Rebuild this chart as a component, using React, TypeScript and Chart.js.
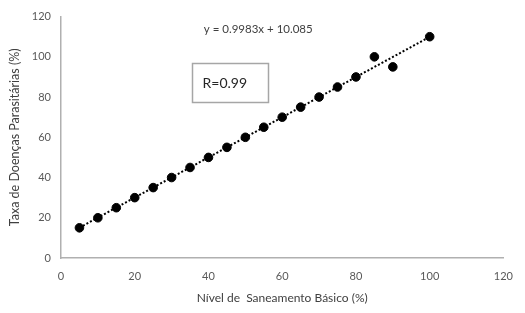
import React, { useEffect, useRef } from "react";
import { Chart, registerables } from "chart.js";

Chart.register(...registerables);

const saneamento = [5, 10, 15, 20, 25, 30, 35, 40, 45, 50, 55, 60, 65, 70, 75, 80, 85, 90, 100];
const doencas = [15, 20, 25, 30, 35, 40, 45, 50, 55, 60, 65, 70, 75, 80, 85, 90, 100, 95, 110];
const slope = 0.9983;
const intercept = 10.085;
const trendRange = [5, 100];
const equationText = "y = 0.9983x + 10.085";
const rText = "R=0.99";
const xTitle = "Nível de  Saneamento Básico (%)";
const yTitle = "Taxa de Doenças Parasitárias (%)";

const FONT = "Lato, 'Open Sans', sans-serif";

const annotationPlugin = {
  id: "annots",
  afterDraw(chart: any) {
    const { ctx, scales } = chart;
    const xs = scales.x;
    const ys = scales.y;
    ctx.save();
    // equation
    ctx.font = `11.5px ${FONT}`;
    ctx.fillStyle = "#404040";
    ctx.textAlign = "center";
    ctx.textBaseline = "middle";
    ctx.fillText(equationText, xs.getPixelForValue(53.5), ys.getPixelForValue(113.5));
    // R box
    const l = xs.getPixelForValue(35.4);
    const r = xs.getPixelForValue(55.9);
    const t = ys.getPixelForValue(96.8);
    const b = ys.getPixelForValue(77.2);
    ctx.fillStyle = "#ffffff";
    ctx.fillRect(l, t, r - l, b - t);
    ctx.strokeStyle = "#a6a6a6";
    ctx.lineWidth = 1.5;
    ctx.strokeRect(Math.round(l) + 0.5, Math.round(t) + 0.5, Math.round(r - l), Math.round(b - t));
    ctx.font = `14px ${FONT}`;
    ctx.fillStyle = "#262626";
    ctx.textAlign = "left";
    ctx.fillText(rText, l + 11, (t + b) / 2);
    ctx.restore();
  },
};

export default function App() {
  const ref = useRef<HTMLCanvasElement>(null);
  useEffect(() => {
    if (!ref.current) return;
    const points = saneamento.map((x, i) => ({ x, y: doencas[i] }));
    const trend = trendRange.map((x) => ({ x, y: slope * x + intercept }));
    const chart = new Chart(ref.current, {
      type: "scatter",
      data: {
        datasets: [
          {
            type: "line",
            data: trend,
            borderColor: "#000000",
            borderWidth: 2,
            borderDash: [2, 2],
            pointRadius: 0,
            fill: false,
          } as any,
          {
            data: points,
            backgroundColor: "#000000",
            borderColor: "#000000",
            pointRadius: 4.3,
          },
        ],
      },
      options: {
        animation: false,
        responsive: false,
        layout: { padding: { left: 0, right: 20, top: 12, bottom: 0 } },
        plugins: { legend: { display: false }, tooltip: { enabled: false } },
        scales: {
          x: {
            type: "linear",
            min: 0,
            max: 120,
            afterFit: (s: any) => {
              s.height = 55;
            },
            grid: { display: false, drawTicks: false },
            border: { display: true, color: "#b0b0b0", width: 1.5 },
            ticks: { stepSize: 20, padding: 12, color: "#595959", font: { family: FONT, size: 11 } },
            title: {
              display: true,
              text: xTitle,
              color: "#404040",
              font: { family: FONT, size: 12 },
              padding: { top: 0, bottom: 8 },
            },
          },
          y: {
            type: "linear",
            min: 0,
            max: 120,
            afterFit: (s: any) => {
              s.width = 61;
            },
            grid: { display: false, drawTicks: false },
            border: { display: true, color: "#b0b0b0", width: 1.5 },
            ticks: { stepSize: 20, padding: 10, color: "#595959", font: { family: FONT, size: 11 } },
            title: {
              display: true,
              text: yTitle,
              color: "#404040",
              font: { family: FONT, size: 12.5 },
              padding: { top: 7, bottom: 0 },
            },
          },
        },
      },
      plugins: [annotationPlugin],
    });
    return () => chart.destroy();
  }, []);
  return (
    <div style={{ position: "absolute", left: 0, top: 0, width: 525, height: 313, background: "#fff" }}>
      <canvas ref={ref} width={525} height={313} />
    </div>
  );
}
